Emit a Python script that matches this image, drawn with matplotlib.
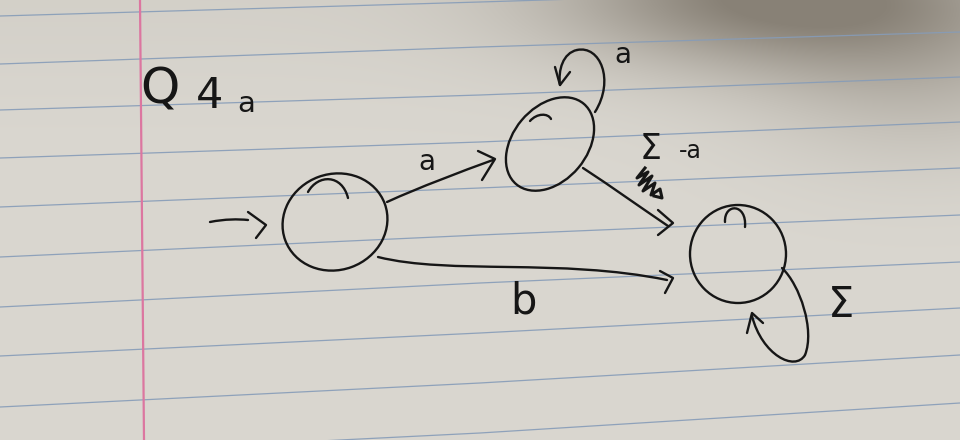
import matplotlib
matplotlib.use("Agg")
import matplotlib.pyplot as plt
import numpy as np
from matplotlib.patches import Ellipse, PathPatch
from matplotlib.path import Path

# ── Paper ────────────────────────────────────────────────────────────────────
RULE_X = [0, 480, 960]
RULE_Y = [
    [16, 2, -13], [64, 47, 32], [110, 95, 77], [158, 142, 122],
    [207, 188, 168], [257, 235, 215], [307, 283, 262], [356, 333, 308],
    [407, 383, 355], [457, 433, 403], [507, 483, 451],
]
MARGIN_X = [140, 144]
MARGIN_Y = [0, 440]

# ── States: centre x, centre y, width, height, angle ─────────────────────────
STATE_X = [335, 550, 738]
STATE_Y = [222, 144, 254]
STATE_W = [106, 105, 96]
STATE_H = [96, 74, 98]
STATE_ANG = [-20, -50, 0]

# little hooks where the pen started each circle (cubic bezier)
HOOKS = [
    [(308, 192), (318, 174), (342, 174), (348, 198)],
    [(530, 121), (537, 113), (548, 113), (551, 119)],
    [(725, 222), (724, 203), (747, 203), (745, 227)],
]

# ── Transitions (cubic bezier shafts + arrowhead polylines) ──────────────────
SHAFTS = {
    "start": [(210, 222), (225, 219), (238, 219), (248, 220)],
    "a":     [(387, 202), (420, 187), (460, 172), (493, 160)],
    "b":     [(378, 257), (450, 275), (560, 258), (667, 280)],
    "not_a": [(583, 168), (612, 187), (640, 207), (668, 226)],
    "loop_a1": [(595, 112), (615, 80), (600, 45), (577, 50)],
    "loop_a2": [(577, 50), (563, 53), (558, 70), (560, 85)],
    "loop_s1": [(782, 268), (800, 285), (815, 330), (805, 355)],
    "loop_s2": [(805, 355), (795, 372), (762, 355), (752, 316)],
}
HEADS = [
    [(248, 212), (266, 225), (256, 238)],
    [(478, 151), (495, 159), (482, 180)],
    [(660, 271), (673, 278), (665, 293)],
    [(658, 210), (673, 223), (658, 235)],
    [(555, 67), (560, 85), (570, 72)],
    [(747, 333), (752, 313), (763, 323)],
]
SCRIBBLE = [(645, 168), (637, 178), (648, 172), (639, 185), (652, 176),
            (643, 191), (655, 183), (651, 195), (660, 189), (662, 198),
            (654, 196)]

# ── Labels ───────────────────────────────────────────────────────────────────
LABELS = ["Q", "4", "a", "a", "b", "a", "Σ", "-a", "Σ"]
LABEL_X = [160, 210, 246, 427, 523, 623, 651, 690, 841]
LABEL_Y = [90, 96, 104, 162, 302, 55, 149, 151, 305]
LABEL_SIZE = [36, 31, 21, 20, 30, 20, 25, 17, 30]

INK = "#161616"
PAPER = np.array([218, 215, 208]) / 255.0
SHADOW = np.array([116, 108, 96]) / 255.0

fig = plt.figure(figsize=(9.6, 4.4), dpi=100)
ax = fig.add_axes([0, 0, 1, 1])
ax.set_xlim(0, 960)
ax.set_ylim(440, 0)
ax.axis("off")

# paper with a soft brownish shadow along the top right
gx, gy = np.meshgrid(np.arange(960), np.arange(440))
s = 0.72 * np.exp(-(((gx - 770) / 210.0) ** 2 + ((gy + 5) / 70.0) ** 2))
s += 0.30 * np.exp(-(((gx - 920) / 170.0) ** 2 + ((gy - 60) / 100.0) ** 2))
s += 0.07 * np.exp(-((gy + 30) / 110.0) ** 2)
s = np.clip(s, 0, 0.8)[..., None]
bg = PAPER[None, None, :] * (1 - s) + SHADOW[None, None, :] * s
ax.imshow(np.clip(bg, 0, 1), extent=[0, 960, 440, 0], aspect="auto", zorder=0)

for ys in RULE_Y:
    ax.plot(RULE_X, ys, color="#869cb8", lw=0.9, alpha=0.9, zorder=1)
ax.plot(MARGIN_X, MARGIN_Y, color="#dc76a0", lw=1.6, zorder=1)

pen = dict(color=INK, lw=1.7, fill=False, zorder=3, capstyle="round")


def bezier(pts):
    return PathPatch(Path(pts, [Path.MOVETO, Path.CURVE4, Path.CURVE4, Path.CURVE4]), **pen)


for x, y, w, h, a in zip(STATE_X, STATE_Y, STATE_W, STATE_H, STATE_ANG):
    ax.add_patch(Ellipse((x, y), w, h, angle=a, **pen))
for pts in HOOKS:
    ax.add_patch(bezier(pts))
for pts in SHAFTS.values():
    ax.add_patch(bezier(pts))
for pts in HEADS:
    hx, hy = zip(*pts)
    ax.plot(hx, hy, color=INK, lw=1.7, solid_joinstyle="round",
            solid_capstyle="round", zorder=3)
sx, sy = zip(*SCRIBBLE)
ax.plot(sx, sy, color=INK, lw=2.2, solid_joinstyle="round", zorder=3)

for t, x, y, sz in zip(LABELS, LABEL_X, LABEL_Y, LABEL_SIZE):
    ax.text(x, y, t, fontsize=sz, color=INK, ha="center", va="center",
            family="DejaVu Sans", zorder=4)

fig.savefig("out.png", dpi=100)
